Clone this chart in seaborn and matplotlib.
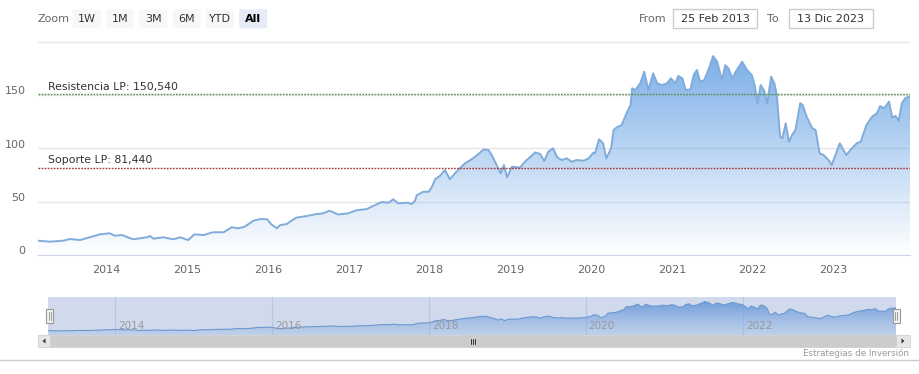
import numpy as np
import pandas as pd
import matplotlib
matplotlib.use("Agg")
import matplotlib.pyplot as plt
import matplotlib.dates as mdates
import matplotlib.transforms as mtrans
from matplotlib.patches import Rectangle, FancyBboxPatch, Polygon
from matplotlib.lines import Line2D
import seaborn as sns

# price (decimal year, value)
t_year = [
    2013.15, 2013.30, 2013.46, 2013.55, 2013.67, 2013.79, 2013.92,
    2014.04, 2014.10, 2014.19, 2014.33, 2014.50, 2014.54, 2014.58, 2014.70, 2014.83, 2014.91,
    2015.01, 2015.09, 2015.20, 2015.32, 2015.45, 2015.55, 2015.63, 2015.71, 2015.82, 2015.90, 2015.99,
    2016.04, 2016.11, 2016.15, 2016.23, 2016.35, 2016.48, 2016.60, 2016.68, 2016.76, 2016.87, 2016.99,
    2017.10, 2017.22, 2017.30, 2017.41, 2017.49, 2017.55, 2017.61, 2017.72, 2017.78, 2017.82, 2017.84, 2017.92, 2017.99,
    2018.03, 2018.07, 2018.13, 2018.19, 2018.25, 2018.34, 2018.44, 2018.52, 2018.59, 2018.67, 2018.73, 2018.77, 2018.83, 2018.88, 2018.92, 2018.96,
    2019.02, 2019.12, 2019.18, 2019.31, 2019.37, 2019.42, 2019.47, 2019.53, 2019.58, 2019.64, 2019.70, 2019.76, 2019.82, 2019.91, 2019.97,
    2020.03, 2020.05, 2020.10, 2020.15, 2020.19, 2020.25, 2020.28, 2020.32, 2020.38, 2020.44, 2020.49, 2020.51, 2020.55, 2020.61, 2020.66, 2020.71, 2020.77, 2020.82, 2020.88, 2020.94, 2020.99,
    2021.04, 2021.08, 2021.13, 2021.17, 2021.23, 2021.27, 2021.31, 2021.35, 2021.40, 2021.46, 2021.51, 2021.56, 2021.62, 2021.66, 2021.70, 2021.75, 2021.79, 2021.87, 2021.93, 2021.99,
    2022.03, 2022.06, 2022.10, 2022.14, 2022.18, 2022.23, 2022.27, 2022.30, 2022.34, 2022.37, 2022.41, 2022.45, 2022.49, 2022.53, 2022.59, 2022.62, 2022.67, 2022.74, 2022.78, 2022.83, 2022.88, 2022.94, 2022.98,
    2023.05, 2023.08, 2023.16, 2023.23, 2023.29, 2023.34, 2023.41, 2023.48, 2023.54, 2023.58, 2023.63, 2023.69, 2023.73, 2023.77, 2023.81, 2023.85, 2023.89, 2023.93, 2023.95,
]
price = [
    13.4, 12.5, 13.4, 15.0, 14.0, 16.6, 19.4,
    20.3, 18.1, 18.7, 14.7, 16.6, 17.8, 15.3, 16.6, 14.7, 16.6,
    14.0, 19.4, 18.7, 21.3, 21.3, 26.0, 25.0, 26.5, 32.2, 33.7, 33.5,
    28.8, 25.0, 28.0, 29.0, 35.0, 36.5, 38.4, 39.0, 41.5, 38.0, 39.0,
    42.0, 43.0, 46.0, 49.7, 49.0, 52.2, 48.4, 49.0, 47.8, 51.0, 56.0, 59.3, 59.3,
    64.0, 71.0, 74.3, 79.7, 71.0, 78.7, 86.0, 89.7, 93.7, 99.0, 98.4, 93.7, 84.3, 76.6, 84.3, 72.8,
    82.8, 81.8, 87.4, 96.2, 94.7, 88.1, 96.8, 100.0, 91.6, 89.0, 90.6, 87.4, 89.0, 88.4, 90.6,
    95.9, 95.3, 108.4, 104.7, 90.6, 100.0, 117.2, 119.7, 121.8, 132.8, 140.6, 156.2, 154.6, 160.9, 171.8, 154.6, 170.3, 160.9, 159.3, 160.9, 165.6,
    160.9, 167.8, 165.6, 154.6, 155.3, 168.7, 173.4, 162.4, 164.0, 175.0, 186.5, 181.2, 164.0, 177.9, 175.0, 165.6, 171.8, 181.2, 173.4, 168.7,
    157.7, 142.2, 159.3, 154.6, 142.2, 167.1, 160.9, 150.0, 110.9, 109.4, 123.4, 106.2, 112.5, 117.2, 142.2, 140.6, 129.6, 118.7, 117.2, 95.3, 93.7, 89.0, 84.3,
    98.4, 104.7, 93.7, 100.0, 104.7, 106.2, 121.8, 129.6, 132.8, 139.6, 137.5, 143.7, 129.0, 130.3, 126.0, 142.2, 146.9, 148.4, 148.5,
]
resistance = 150.540
support = 81.440
y_ticks = [0, 50, 100, 150, 200]
zoom_buttons = ["1W", "1M", "3M", "6M", "YTD", "All"]
date_from = "25 Feb 2013"
date_to = "13 Dic 2023"
nav_years = [2014, 2016, 2018, 2020, 2022]


def to_date(v):
    y = int(v)
    return pd.Timestamp(year=y, month=1, day=1) + pd.Timedelta(days=(v - y) * 365.25)


df = pd.DataFrame({"date": [to_date(v) for v in t_year], "price": price})

sns.set_style("white")
plt.rcParams["font.family"] = ["DejaVu Sans"]

W, H = 920, 374
fig = plt.figure(figsize=(W / 100, H / 100), dpi=100)


def fx(x):
    return x / W


def fy(y):
    return 1 - y / H


def grad_fill(ax, top, bottom, ylo, yhi, z=1):
    poly = ax.fill_between(df["date"], df["price"], ylo, color="none", lw=0)
    n = 256
    c = np.linspace(0, 1, n)[:, None]
    img = np.array(top)[None, :] * (1 - c) + np.array(bottom)[None, :] * c
    img = img[:, None, :]
    xn = mdates.date2num(df["date"])
    im = ax.imshow(img, extent=[xn.min(), xn.max(), ylo, yhi], aspect="auto",
                   origin="upper", zorder=z, interpolation="bilinear")
    im.set_clip_path(poly.get_paths()[0], transform=ax.transData)


x0, x1 = df["date"].min(), df["date"].max()

# main chart
ax = fig.add_axes([fx(38), fy(255), fx(910) - fx(38), fy(38) - fy(255)])
grad_fill(ax, (0.49, 0.69, 0.91, 1.0), (0.49, 0.69, 0.91, 0.0), 0, df["price"].max())
sns.lineplot(data=df, x="date", y="price", ax=ax, color="#80acdb", lw=1.4, zorder=3)
ax.set_xlim(x0, x1)
ax.set_ylim(0, 203.4)
ax.set_xlabel("")
ax.set_ylabel("")
ax.set_yticks(y_ticks)
ax.set_yticklabels([str(v) if v < 200 else "" for v in y_ticks])
ax.yaxis.grid(True, color="#e6e6e6", lw=1)
ax.xaxis.grid(False)
ax.set_axisbelow(True)
for s in ["left", "right", "top"]:
    ax.spines[s].set_visible(False)
ax.spines["bottom"].set_color("#ccd6eb")
ax.tick_params(axis="y", length=0, pad=9, labelsize=8, labelcolor="#666666")
for lab in ax.get_yticklabels():
    lab.set_transform(lab.get_transform() + mtrans.ScaledTranslation(0, 0.045, fig.dpi_scale_trans))
ax.xaxis.set_major_locator(mdates.YearLocator())
ax.xaxis.set_major_formatter(mdates.DateFormatter("%Y"))
ax.tick_params(axis="x", length=5, width=1, color="#ccd6eb", pad=2, labelsize=8, labelcolor="#666666")

ax.axhline(resistance, color="#5b8f45", lw=1.0, ls=(0, (1.2, 1.0)), zorder=4)
ax.axhline(support, color="#a83232", lw=1.0, ls=(0, (1.2, 1.0)), zorder=4)
ax.annotate("Resistencia LP: 150,540", xy=(10 / 872, resistance), xycoords=("axes fraction", "data"),
            xytext=(0, 2), textcoords="offset points", va="bottom", ha="left", fontsize=7.8, color="#333333")
ax.annotate("Soporte LP: 81,440", xy=(10 / 872, support), xycoords=("axes fraction", "data"),
            xytext=(0, 2), textcoords="offset points", va="bottom", ha="left", fontsize=7.8, color="#333333")

# navigator
nav = fig.add_axes([fx(48.5), fy(335), fx(896) - fx(48.5), fy(297) - fy(335)])
nav.set_facecolor("#d0daec")
grad_fill(nav, (0.42, 0.6, 0.85, 0.95), (0.55, 0.7, 0.9, 0.25), -12.5, df["price"].max())
sns.lineplot(data=df, x="date", y="price", ax=nav, color="#6b98cf", lw=0.8, zorder=3)
nav.set_xlim(x0, x1)
nav.set_ylim(-12.5, 214)
nav.set_xlabel("")
nav.set_ylabel("")
nav.set_xticks([])
nav.set_yticks([])
for s in nav.spines.values():
    s.set_visible(False)
for yr in nav_years:
    d = pd.Timestamp(year=yr, month=1, day=1)
    nav.axvline(d, color="#bcc5da", lw=0.8, zorder=0.5)
    nav.annotate(str(yr), xy=(d, 0.24), xycoords=("data", "axes fraction"), xytext=(2, 0),
                 textcoords="offset points", va="center", ha="left", fontsize=7.5, color="#999999")

# navigator handles
for hx in [50, 896.5]:
    fig.add_artist(Rectangle((fx(hx - 3.5), fy(323)), 7 / W, 14 / H, transform=fig.transFigure,
                             facecolor="#f2f2f2", edgecolor="#999999", lw=0.8, zorder=5))
    for lx in [hx - 1, hx + 1]:
        fig.add_artist(Line2D([fx(lx), fx(lx)], [fy(320), fy(312)], transform=fig.transFigure,
                              color="#999999", lw=0.7, zorder=6))

# scrollbar
fig.add_artist(Rectangle((fx(38), fy(347)), 872 / W, 12 / H, transform=fig.transFigure,
                         facecolor="#f2f2f2", edgecolor="none"))
fig.add_artist(Rectangle((fx(50), fy(347)), 846 / W, 12 / H, transform=fig.transFigure,
                         facecolor="#cccccc", edgecolor="#cccccc", lw=0.5))
for bx0, bx1, pts in [(38, 50, [(45.5, 338.5), (45.5, 343.5), (42.5, 341)]),
                      (896, 910, [(901.5, 338.5), (901.5, 343.5), (904.5, 341)])]:
    fig.add_artist(Rectangle((fx(bx0), fy(347)), (bx1 - bx0) / W, 12 / H, transform=fig.transFigure,
                             facecolor="#e6e6e6", edgecolor="#cccccc", lw=0.5))
    fig.add_artist(Polygon([(fx(px), fy(py)) for px, py in pts], closed=True, transform=fig.transFigure,
                           facecolor="#333333", edgecolor="none"))
for gx in [471, 473, 475]:
    fig.add_artist(Line2D([fx(gx), fx(gx)], [fy(338.5), fy(343.5)], transform=fig.transFigure,
                          color="#333333", lw=0.7))

# footer
fig.add_artist(Line2D([0, 1], [fy(360), fy(360)], transform=fig.transFigure, color="#cccccc", lw=1))
fig.text(fx(909), fy(353), "Estrategias de Inversión", ha="right", va="center", fontsize=6.3, color="#999999")

# range selector buttons
fig.text(fx(38), fy(18.5), "Zoom", ha="left", va="center", fontsize=8, color="#666666")
bx = 72.7
for lab in zoom_buttons:
    sel = lab == "All"
    fig.add_artist(FancyBboxPatch((fx(bx), fy(28.3)), 28 / W, 19 / H, transform=fig.transFigure,
                                  boxstyle="round,pad=0,rounding_size=0.003",
                                  facecolor="#e6ebf5" if sel else "#f7f7f7", edgecolor="none"))
    fig.text(fx(bx + 14), fy(18.5), lab, ha="center", va="center", fontsize=8,
             color="#000000" if sel else "#333333", fontweight="bold" if sel else "normal")
    bx += 33.3

# date inputs
fig.text(fx(639), fy(18.5), "From", ha="left", va="center", fontsize=8, color="#666666")
fig.text(fx(767.5), fy(18.5), "To", ha="left", va="center", fontsize=8, color="#666666")
for bx0, bx1, txt in [(672.7, 757.3, date_from), (788.7, 873.3, date_to)]:
    fig.add_artist(Rectangle((fx(bx0), fy(28.3)), (bx1 - bx0) / W, 19.3 / H, transform=fig.transFigure,
                             facecolor="white", edgecolor="#cccccc", lw=1))
    fig.text(fx((bx0 + bx1) / 2), fy(18.5), txt, ha="center", va="center", fontsize=8, color="#333333")

fig.savefig("out.png", dpi=100)
